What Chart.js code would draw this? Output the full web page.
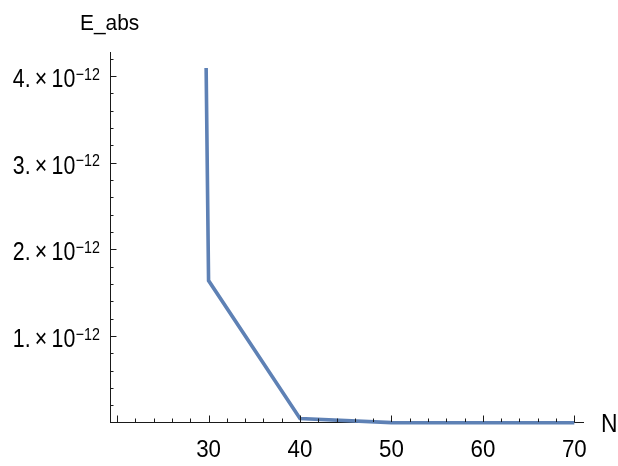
<!DOCTYPE html>
<html>
<head>
<meta charset="utf-8">
<script src="https://cdn.jsdelivr.net/npm/chart.js@4/dist/chart.umd.min.js"></script>
<style>
  html, body { margin: 0; padding: 0; background: #ffffff; }
  #c { display: block; }
</style>
</head>
<body>
<canvas id="c" width="618" height="466"></canvas>
<script>
// ---- data ----
const N_values = [20, 30, 40, 50, 60, 70];
const E_abs = [9.4e-11, 1.64e-12, 5.0e-14, 1.5e-15, 4e-17, 1e-18];

// ---- axis / tick definitions ----
const xTickLabels = ['', '30', '40', '50', '60', '70'];   // majors 20..70 (20 unlabeled)
const xMajorTicks = [20, 30, 40, 50, 60, 70];
const xMinorStep = 2;
const yMajorMantissas = [1, 2, 3, 4];                    // × 10^-12
const yExponent = '\u221212';
const yUnit = 1e-12;
const yMinorStep = 0.2e-12;
const xAxisTitle = 'N';
const yAxisTitle = 'E_abs';

const LINE_COLOR = '#5E81B5';
const AXIS_COLOR = '#1a1a1a';
const TEXT_COLOR = '#000000';
const FONT = '"Liberation Sans", Arial, sans-serif';

// draw text with a horizontal condensing factor (reference uses a condensed face)
function condensedText(ctx, text, x, y, size, sx, align) {
  ctx.save();
  ctx.font = size + 'px ' + FONT;
  const w = ctx.measureText(text).width * sx;
  let left = x;
  if (align === 'right') left = x - w;
  else if (align === 'center') left = x - w / 2;
  ctx.translate(left, y);
  ctx.scale(sx, 1);
  ctx.textAlign = 'left';
  ctx.fillText(text, 0, 0);
  ctx.restore();
  return w;
}

const decoPlugin = {
  id: 'deco',
  afterDraw(chart) {
    const { ctx, chartArea: ca, scales: { x, y } } = chart;
    ctx.save();
    ctx.strokeStyle = AXIS_COLOR;
    ctx.lineWidth = 1;
    // x ticks (pointing inward)
    for (let n = xMajorTicks[0]; n <= xMajorTicks[xMajorTicks.length - 1] + 1e-9; n += xMinorStep) {
      const px = Math.round(x.getPixelForValue(n)) + 0.5;
      const major = xMajorTicks.includes(n);
      const len = major ? 6.5 : 3.5;
      ctx.beginPath();
      ctx.moveTo(px, ca.bottom);
      ctx.lineTo(px, ca.bottom - len);
      ctx.stroke();
    }
    // y ticks (pointing inward)
    for (let k = 1; k * yMinorStep <= y.max; k++) {
      const v = k * yMinorStep;
      const py = Math.round(y.getPixelForValue(v)) + 0.5;
      const major = k % 5 === 0;
      const len = major ? 6.5 : 3.5;
      ctx.beginPath();
      ctx.moveTo(ca.left, py);
      ctx.lineTo(ca.left + len, py);
      ctx.stroke();
    }
    ctx.fillStyle = TEXT_COLOR;
    ctx.textBaseline = 'alphabetic';
    // x labels
    xMajorTicks.forEach((v, i) => {
      const lbl = xTickLabels[i];
      if (!lbl) return;
      condensedText(ctx, lbl, x.getPixelForValue(v), ca.bottom + 35, 24, 0.93, 'center');
    });
    // y labels  "m. × 10^-12"
    yMajorMantissas.forEach(m => {
      const py = y.getPixelForValue(m * yUnit);
      const right = ca.left - 10;
      const supW = condensedText(ctx, yExponent, right, py + 3.5, 17, 0.84, 'right');
      condensedText(ctx, m + '.\u2009\u00d7\u200910', right - supW - 0.5, py + 11, 26, 0.82, 'right');
    });
    // axis titles
    condensedText(ctx, yAxisTitle, 80, 30, 22, 0.95, 'left');
    condensedText(ctx, xAxisTitle, ca.right + 18, ca.bottom + 9.5, 26, 0.88, 'left');
    ctx.restore();
  }
};

new Chart(document.getElementById('c'), {
  type: 'line',
  data: {
    datasets: [{
      data: N_values.map((n, i) => ({ x: n, y: E_abs[i] })),
      borderColor: LINE_COLOR,
      borderWidth: 3.6,
      pointRadius: 0,
      pointHoverRadius: 0,
      tension: 0,
      fill: false,
      clip: { left: 0, top: -16, right: 4, bottom: 4 }
    }]
  },
  options: {
    responsive: false,
    animation: false,
    devicePixelRatio: 1,
    layout: { padding: { left: 0, top: 52, right: 35, bottom: 0 } },
    plugins: { legend: { display: false }, tooltip: { enabled: false }, title: { display: false } },
    events: [],
    scales: {
      x: {
        type: 'linear',
        position: 'bottom',
        min: 19.22,
        max: 70.95,
        grid: { display: false, drawTicks: false },
        border: { display: true, color: AXIS_COLOR, width: 1 },
        ticks: { display: false },
        afterFit(s) { s.height = 44; }
      },
      y: {
        type: 'linear',
        position: 'left',
        min: 0.009e-12,
        max: 4.277e-12,
        grid: { display: false, drawTicks: false },
        border: { display: true, color: AXIS_COLOR, width: 1 },
        ticks: { display: false },
        afterFit(s) { s.width = 110; }
      }
    }
  },
  plugins: [decoPlugin]
});
</script>
</body>
</html>
